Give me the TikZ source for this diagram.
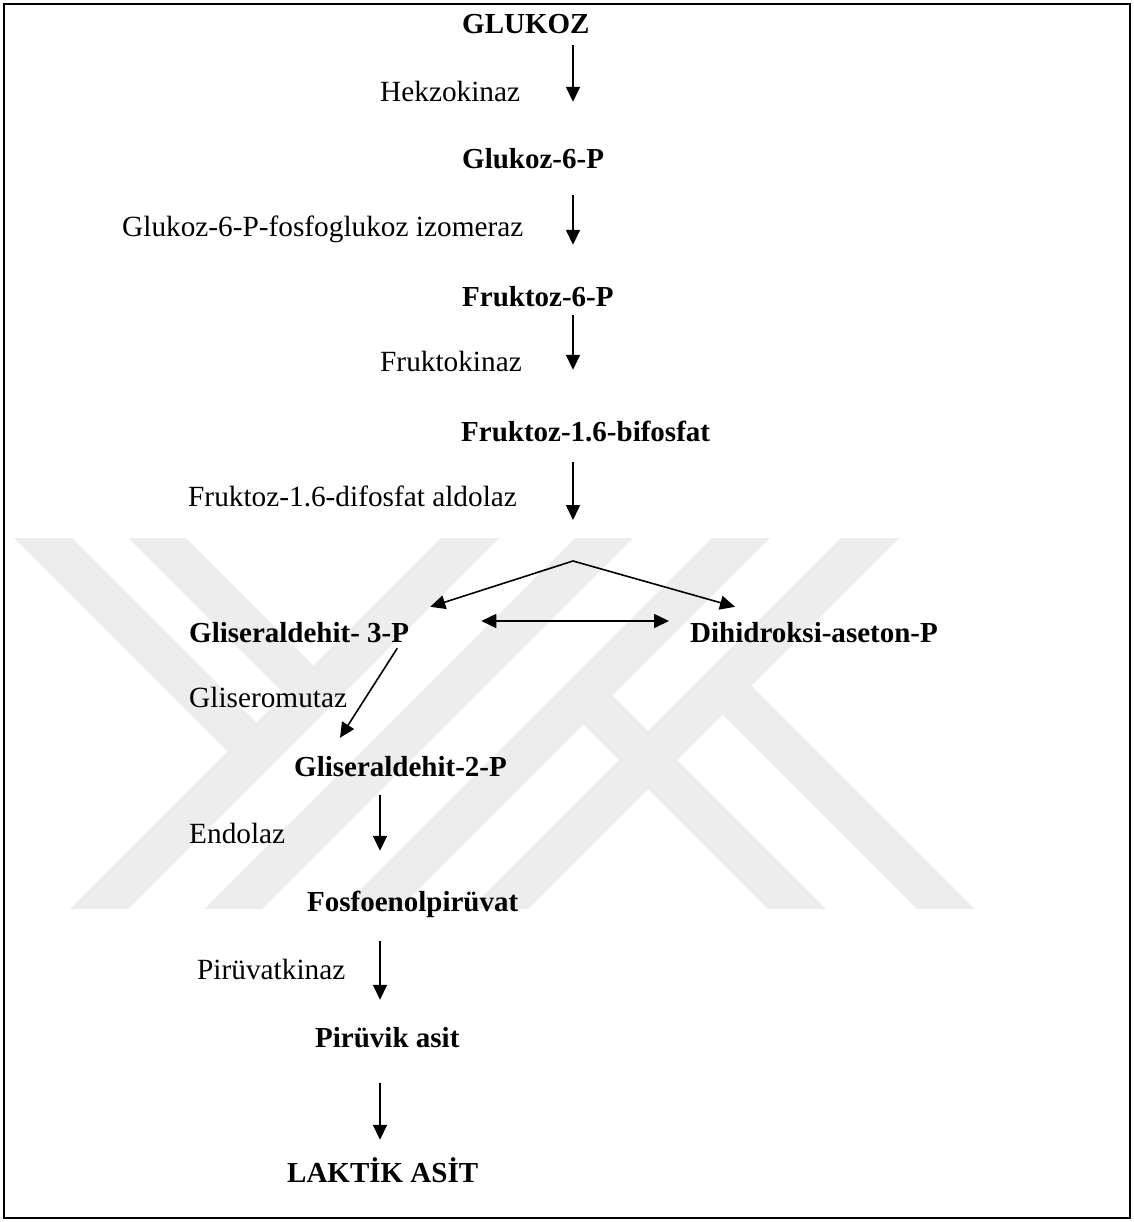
\documentclass[tikz,border=0pt]{standalone}
\usepackage{fontspec}
\setmainfont{Liberation Serif}
\usetikzlibrary{arrows.meta, calc}

\begin{document}
\begin{tikzpicture}[x=1pt, y=-1pt,
  metab/.style={anchor=base west, inner sep=0pt, text height=20pt, text depth=6pt, font=\fontsize{29}{34}\selectfont\bfseries},
  enz/.style={anchor=base west, inner sep=0pt, font=\fontsize{29.3}{34}\selectfont},
  rxn/.style={-{Triangle[length=15pt, width=14pt]}, line width=1.6pt},
  eqlb/.style={{Triangle[length=15pt, width=14pt]}-{Triangle[length=15pt, width=14pt]}, line width=1.6pt},
  wmark/.style={line width=41pt, black!7}]

  \useasboundingbox (0,0) rectangle (1133,1222);

  \begin{scope}
    \clip (0,538) rectangle (1133,908);
    \draw [wmark] (508,500) -- (58,950);
    \draw [wmark] (642,500) -- (192,950);
    \draw [wmark] (779,500) -- (329,950);
    \draw [wmark] (908,500) -- (458,950);
    \draw [wmark] (5,500) -- (257,752);
    \draw [wmark] (119,500) -- (313.5,694.5);
    \draw [wmark] (583.5,695.5) -- (838,950);
    \draw [wmark] (722.5,685.5) -- (987,950);
  \end{scope}

  \draw [line width=2pt] (4,4) rectangle (1130,1218);

  \node (glukoz) [metab] at (462,34) {GLUKOZ};
  \node (g6p) [metab] at (462,169) {Glukoz-6-P};
  \node (f6p) [metab] at (462,306) {Fruktoz-6-P};
  \node (f16bp) [metab] at (461,441) {Fruktoz-1.6-bifosfat};
  \node (g3p) [metab] at (189,642) {Gliseraldehit- 3-P};
  \node (dhap) [metab] at (690,642) {Dihidroksi-aseton-P};
  \node (g2p) [metab] at (294,776) {Gliseraldehit-2-P};
  \node (pep) [metab] at (307,911) {Fosfoenolpirüvat};
  \node (piruvik) [metab] at (315,1047) {Pirüvik asit};
  \node (laktik) [metab] at (287,1182) {LAKTİK ASİT};

  \node (hk) [enz] at (380,102) {Hekzokinaz};
  \node (pgi) [enz] at (122,237) {Glukoz-6-P-fosfoglukoz izomeraz};
  \node (pfk) [enz] at (380,371) {Fruktokinaz};
  \node (ald) [enz] at (188,506) {Fruktoz-1.6-difosfat aldolaz};
  \node (gm) [enz] at (189,707) {Gliseromutaz};
  \node (eno) [enz] at (189,843) {Endolaz};
  \node (pk) [enz] at (197,979) {Pirüvatkinaz};

  \coordinate (colA) at (573,0);
  \coordinate (colB) at (380,0);
  \coordinate (split) at (573,561);

  \path [rxn]
  (glukoz.south -| colA) edge [shorten <=5pt, shorten >=47pt] (g6p.north -| colA)
  (g6p.south -| colA) edge [shorten <=20pt, shorten >=41pt] (f6p.north -| colA)
  (f6p.south -| colA) edge [shorten <=3pt, shorten >=51pt] (f16bp.north -| colA)
  (f16bp.south -| colA) edge [shorten <=15pt, shorten >=41pt] (split)
  (split) edge ([shift={(21,-15)}]g3p.north east)
  (split) edge ([shift={(45,-15)}]dhap.north west)
  ([xshift=-12pt]g3p.south east) edge ([shift={(46,-18)}]g2p.north west)
  (g2p.south -| colB) edge [shorten <=13pt, shorten >=40pt] (pep.north -| colB)
  (pep.south -| colB) edge [shorten <=24pt, shorten >=27pt] (piruvik.north -| colB)
  (piruvik.south -| colB) edge [shorten <=30pt, shorten >=22pt] (laktik.north -| colB);

  \path [eqlb]
  ([yshift=14pt]g3p.east) edge [shorten <=72pt, shorten >=21pt] ([yshift=14pt]dhap.west);
\end{tikzpicture}
\end{document}
